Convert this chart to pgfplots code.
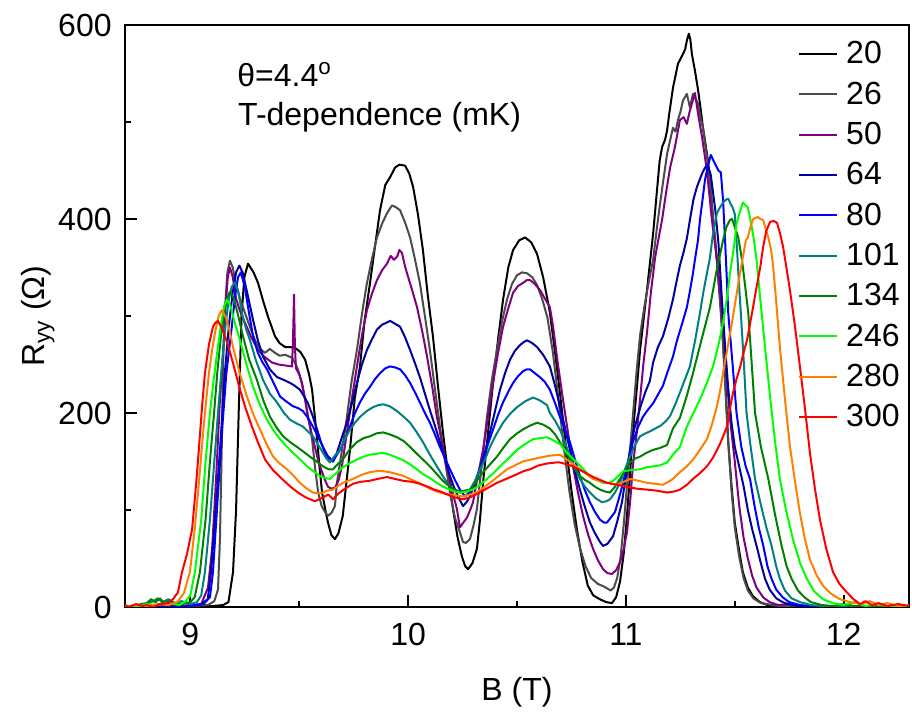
\documentclass[border=0pt]{standalone}
\usepackage{fontspec}
\setmainfont{Liberation Sans}
\usepackage{pgfplots}
\pgfplotsset{compat=1.18}
\definecolor{c20}{RGB}{0,0,0}
\definecolor{c26}{RGB}{75,75,75}
\definecolor{c50}{RGB}{128,0,128}
\definecolor{c64}{RGB}{0,0,160}
\definecolor{c80}{RGB}{0,0,255}
\definecolor{c101}{RGB}{0,128,128}
\definecolor{c134}{RGB}{0,128,0}
\definecolor{c246}{RGB}{0,255,0}
\definecolor{c280}{RGB}{255,128,0}
\definecolor{c300}{RGB}{255,0,0}
\newcommand{\fs}{\fontsize{16}{19}\selectfont}

\begin{document}
\begin{tikzpicture}
\begin{axis}[name=ax, width=392pt, height=291pt, scale only axis,
  xmin=8.7, xmax=12.3, ymin=0, ymax=600,
  xtick={9,10,11,12}, minor xtick={9.5,10.5,11.5},
  ytick={0,200,400,600}, minor ytick={100,300,500},
  tick align=inside, xtick pos=bottom, ytick pos=left,
  major tick length=6pt, minor tick length=3pt,
  axis line style={line width=1pt},
  every tick/.style={line width=1pt, black},
  /pgf/number format/assume math mode=true,
  tick label style={font=\fs},
  xticklabel style={inner sep=0pt, yshift=-8pt},
  yticklabel style={inner sep=0pt, xshift=-6.5pt},
  xlabel={B (T)},
  label style={font=\fs},
  xlabel style={at={(axis description cs:0.5,0)}, anchor=center, yshift=-42.5pt},
  legend style={draw=none, fill=none, font=\fs, at={(1,1)}, anchor=north east,
    xshift=-1.5pt, yshift=-6pt, nodes={inner sep=0pt}, row sep=7.5pt, column sep=4pt},
  legend cell align=left,
  legend image code/.code={\draw[#1] (0pt,0pt) -- (19pt,0pt);},
  every axis plot/.append style={line width=1pt, line join=round}]

\addplot[c20] coordinates {(8.70,0)(8.80,1)(8.90,0)(9.00,1)(9.10,1)(9.15,2)(9.175,5)(9.196,36)(9.21,100)(9.222,200)(9.235,300)(9.248,340)(9.265,354)(9.29,345)(9.311,334)(9.335,315)(9.357,299)(9.389,279)(9.41,272)(9.435,268)(9.46,268)(9.481,267)(9.505,263)(9.527,255)(9.545,240)(9.559,224)(9.57,200)(9.582,173)(9.595,140)(9.605,118)(9.62,100)(9.632,87)(9.648,74)(9.664,70)(9.68,76)(9.7,94)(9.715,125)(9.733,162)(9.755,215)(9.779,248)(9.8,295)(9.825,334)(9.85,375)(9.871,409)(9.895,435)(9.917,443)(9.94,453)(9.96,456)(9.986,455)(10.005,447)(10.023,433)(10.045,405)(10.068,368)(10.09,322)(10.114,279)(10.137,228)(10.16,180)(10.183,138)(10.206,101)(10.227,72)(10.247,52)(10.262,42)(10.275,39)(10.295,45)(10.316,60)(10.33,90)(10.344,128)(10.367,180)(10.39,231)(10.413,276)(10.436,317)(10.46,350)(10.482,368)(10.51,378)(10.537,381)(10.565,376)(10.592,364)(10.62,340)(10.65,305)(10.675,262)(10.7,215)(10.725,165)(10.75,120)(10.775,80)(10.8,47)(10.825,22)(10.85,12)(10.88,8)(10.91,5)(10.936,4)(10.955,10)(10.973,26)(10.99,55)(11.005,94)(11.02,140)(11.032,180)(11.05,225)(11.065,265)(11.097,327)(11.125,385)(11.143,430)(11.155,460)(11.166,474)(11.18,482)(11.189,491)(11.2,510)(11.216,535)(11.239,560)(11.262,570)(11.272,575)(11.28,584)(11.289,591)(11.296,585)(11.303,570)(11.317,553)(11.33,535)(11.34,519)(11.354,494)(11.365,478)(11.377,460)(11.39,430)(11.4,399)(11.418,358)(11.432,320)(11.446,275)(11.458,225)(11.469,173)(11.485,125)(11.5,87)(11.52,58)(11.537,36)(11.56,20)(11.584,11)(11.616,5)(11.65,2)(11.7,1)(11.8,0)(11.9,1)(12.0,0)(12.1,1)(12.2,0)(12.3,1)};
\addlegendentry{20}

\addplot[c26] coordinates {(8.70,1)(8.8,0)(8.9,2)(9.0,1)(9.08,2)(9.11,6)(9.127,18)(9.136,70)(9.145,173)(9.15,250)(9.16,310)(9.17,345)(9.182,357)(9.195,350)(9.205,337)(9.228,318)(9.251,303)(9.275,288)(9.297,275)(9.32,266)(9.343,262)(9.365,266)(9.389,262)(9.41,259)(9.435,260)(9.467,257)(9.48,252)(9.494,245)(9.51,232)(9.527,214)(9.543,193)(9.559,173)(9.572,145)(9.587,118)(9.603,104)(9.618,98)(9.632,94)(9.648,97)(9.664,104)(9.673,128)(9.695,160)(9.719,196)(9.74,232)(9.765,265)(9.79,305)(9.811,334)(9.835,360)(9.857,381)(9.88,395)(9.903,406)(9.926,414)(9.945,412)(9.963,409)(9.985,397)(10.009,381)(10.03,360)(10.054,334)(10.077,300)(10.1,265)(10.123,225)(10.146,186)(10.17,150)(10.192,118)(10.215,92)(10.238,77)(10.252,67)(10.265,66)(10.284,70)(10.3,84)(10.316,101)(10.34,150)(10.362,196)(10.385,235)(10.408,265)(10.43,293)(10.454,317)(10.477,333)(10.5,342)(10.523,345)(10.546,344)(10.57,340)(10.592,332)(10.615,318)(10.64,298)(10.665,262)(10.69,215)(10.715,165)(10.74,120)(10.765,85)(10.79,60)(10.815,42)(10.84,30)(10.87,24)(10.9,21)(10.93,17)(10.945,20)(10.96,30)(10.975,50)(10.99,85)(11.005,125)(11.02,165)(11.035,205)(11.05,245)(11.065,280)(11.085,310)(11.105,335)(11.125,358)(11.142,390)(11.157,416)(11.175,445)(11.189,467)(11.2,478)(11.216,494)(11.228,490)(11.239,502)(11.25,510)(11.262,522)(11.272,526)(11.28,529)(11.294,515)(11.308,529)(11.32,524)(11.331,519)(11.342,505)(11.354,494)(11.37,468)(11.386,440)(11.397,410)(11.409,381)(11.42,350)(11.432,315)(11.446,270)(11.458,220)(11.47,170)(11.485,120)(11.5,82)(11.52,52)(11.54,30)(11.56,17)(11.585,9)(11.62,4)(11.7,1)(11.8,0)(11.9,1)(12.0,0)(12.1,1)(12.3,0)};
\addlegendentry{26}

\addplot[c50] coordinates {(8.7,0)(8.8,1)(8.9,0)(9.0,2)(9.05,3)(9.081,20)(9.1,60)(9.12,140)(9.135,210)(9.15,260)(9.16,305)(9.172,340)(9.182,350)(9.195,340)(9.21,318)(9.228,305)(9.251,293)(9.28,278)(9.311,265)(9.34,258)(9.375,252)(9.405,250)(9.435,249)(9.467,248)(9.472,280)(9.476,322)(9.48,270)(9.485,246)(9.5,240)(9.513,231)(9.527,214)(9.54,196)(9.556,180)(9.572,165)(9.588,150)(9.605,139)(9.62,130)(9.632,124)(9.648,122)(9.664,123)(9.68,130)(9.696,145)(9.719,180)(9.742,215)(9.765,248)(9.788,280)(9.811,306)(9.834,323)(9.857,337)(9.88,347)(9.903,354)(9.92,362)(9.935,358)(9.949,361)(9.96,368)(9.972,365)(9.985,352)(9.995,344)(10.018,327)(10.041,309)(10.065,284)(10.087,258)(10.11,228)(10.132,196)(10.155,170)(10.178,145)(10.2,122)(10.224,101)(10.238,82)(10.25,86)(10.27,92)(10.285,100)(10.298,108)(10.32,135)(10.344,162)(10.367,196)(10.39,231)(10.413,262)(10.436,289)(10.46,308)(10.482,324)(10.505,331)(10.527,334)(10.545,337)(10.56,337)(10.582,333)(10.605,327)(10.628,318)(10.651,309)(10.665,290)(10.688,250)(10.711,214)(10.734,180)(10.757,145)(10.78,118)(10.803,94)(10.826,75)(10.849,60)(10.872,48)(10.895,39)(10.915,35)(10.936,34)(10.955,38)(10.973,46)(10.99,60)(11.005,77)(11.02,110)(11.032,145)(11.05,180)(11.065,214)(11.08,250)(11.097,283)(11.115,325)(11.134,360)(11.15,380)(11.166,399)(11.185,428)(11.203,453)(11.225,474)(11.248,502)(11.265,505)(11.28,498)(11.292,510)(11.303,519)(11.317,530)(11.331,509)(11.35,484)(11.372,450)(11.395,399)(11.418,358)(11.435,320)(11.45,280)(11.465,230)(11.48,190)(11.5,150)(11.52,105)(11.54,72)(11.56,50)(11.58,32)(11.6,20)(11.63,10)(11.66,5)(11.7,2)(11.75,3)(11.8,1)(11.9,0)(12.0,1)(12.1,0)(12.3,1)};
\addlegendentry{50}

\addplot[c64] coordinates {(8.7,1)(8.8,0)(8.9,2)(9.0,1)(9.05,3)(9.08,8)(9.095,36)(9.12,110)(9.14,175)(9.158,240)(9.177,290)(9.195,325)(9.21,345)(9.225,352)(9.24,345)(9.26,325)(9.288,296)(9.31,275)(9.334,258)(9.365,245)(9.398,237)(9.43,234)(9.458,231)(9.48,228)(9.503,224)(9.52,218)(9.54,210)(9.56,198)(9.582,183)(9.6,170)(9.618,159)(9.636,153)(9.655,150)(9.673,159)(9.696,175)(9.719,190)(9.742,210)(9.765,231)(9.788,250)(9.811,265)(9.834,276)(9.857,286)(9.88,291)(9.9,293)(9.917,295)(9.94,292)(9.963,289)(9.986,278)(10.009,265)(10.032,251)(10.054,237)(10.077,220)(10.1,203)(10.123,187)(10.146,170)(10.17,152)(10.192,135)(10.21,124)(10.229,114)(10.252,104)(10.268,108)(10.284,114)(10.307,128)(10.33,142)(10.353,160)(10.376,180)(10.4,203)(10.422,224)(10.445,241)(10.468,255)(10.49,264)(10.514,270)(10.53,273)(10.546,275)(10.57,272)(10.592,268)(10.62,260)(10.651,248)(10.675,228)(10.697,207)(10.72,185)(10.743,162)(10.766,140)(10.789,121)(10.812,103)(10.835,87)(10.858,76)(10.881,67)(10.895,63)(10.915,65)(10.941,73)(10.96,88)(10.982,108)(11.0,135)(11.019,162)(11.04,185)(11.065,205)(11.09,222)(11.11,233)(11.125,252)(11.147,268)(11.17,279)(11.195,298)(11.216,317)(11.232,335)(11.248,352)(11.264,365)(11.28,380)(11.294,399)(11.31,420)(11.326,433)(11.35,447)(11.363,453)(11.377,455)(11.39,445)(11.41,410)(11.425,375)(11.44,320)(11.455,270)(11.47,225)(11.485,190)(11.5,165)(11.52,145)(11.54,125)(11.56,100)(11.58,80)(11.6,63)(11.62,45)(11.639,29)(11.66,18)(11.69,9)(11.72,5)(11.76,2)(11.8,1)(11.9,0)(12.0,1)(12.1,0)(12.3,1)};
\addlegendentry{64}

\addplot[c80] coordinates {(8.7,0)(8.8,2)(8.9,1)(9.0,1)(9.06,3)(9.09,10)(9.104,36)(9.125,110)(9.145,180)(9.165,240)(9.191,290)(9.205,320)(9.219,340)(9.232,345)(9.25,330)(9.268,305)(9.288,279)(9.31,262)(9.332,252)(9.352,245)(9.38,232)(9.412,217)(9.44,212)(9.471,207)(9.495,205)(9.517,202)(9.54,195)(9.563,186)(9.585,176)(9.609,165)(9.63,156)(9.655,150)(9.67,156)(9.687,162)(9.71,173)(9.733,186)(9.756,200)(9.779,211)(9.802,220)(9.825,227)(9.848,235)(9.871,241)(9.895,246)(9.917,248)(9.94,247)(9.963,245)(9.986,239)(10.009,231)(10.032,221)(10.054,211)(10.077,200)(10.1,190)(10.123,178)(10.146,165)(10.17,153)(10.192,142)(10.215,131)(10.238,121)(10.261,114)(10.28,118)(10.298,124)(10.32,137)(10.344,152)(10.367,168)(10.39,183)(10.413,198)(10.436,211)(10.46,222)(10.482,231)(10.505,238)(10.527,243)(10.545,245)(10.56,245)(10.582,241)(10.605,237)(10.628,232)(10.651,224)(10.675,210)(10.697,196)(10.72,183)(10.743,170)(10.766,152)(10.789,135)(10.812,120)(10.835,108)(10.858,98)(10.881,90)(10.9,87)(10.913,87)(10.93,92)(10.95,98)(10.968,112)(10.987,128)(11.01,150)(11.032,170)(11.055,185)(11.078,196)(11.1,203)(11.125,210)(11.15,220)(11.17,228)(11.189,241)(11.216,258)(11.235,275)(11.258,292)(11.28,309)(11.295,327)(11.308,344)(11.317,358)(11.331,378)(11.34,399)(11.352,420)(11.363,440)(11.377,455)(11.39,466)(11.409,457)(11.425,450)(11.436,448)(11.446,420)(11.455,380)(11.463,340)(11.47,303)(11.49,250)(11.508,200)(11.53,165)(11.55,145)(11.57,132)(11.59,105)(11.61,82)(11.631,63)(11.65,42)(11.669,29)(11.69,18)(11.72,10)(11.75,5)(11.8,2)(11.85,1)(11.9,0)(12.0,1)(12.1,0)(12.3,1)};
\addlegendentry{80}

\addplot[c101] coordinates {(8.7,1)(8.75,0)(8.8,3)(8.83,6)(8.85,9)(8.87,5)(8.9,8)(8.93,4)(8.96,6)(9.0,3)(9.03,5)(9.05,12)(9.067,36)(9.09,90)(9.11,150)(9.127,200)(9.145,250)(9.159,285)(9.175,315)(9.19,330)(9.205,335)(9.22,325)(9.24,300)(9.258,285)(9.274,275)(9.3,255)(9.334,234)(9.365,220)(9.398,211)(9.43,200)(9.458,193)(9.49,189)(9.517,186)(9.54,181)(9.563,176)(9.585,168)(9.609,159)(9.625,153)(9.641,149)(9.66,155)(9.687,162)(9.71,173)(9.733,183)(9.756,190)(9.779,196)(9.81,202)(9.839,206)(9.862,208)(9.885,209)(9.915,207)(9.949,202)(9.98,196)(10.009,190)(10.04,180)(10.068,170)(10.1,157)(10.132,145)(10.162,134)(10.192,124)(10.215,120)(10.238,118)(10.26,119)(10.284,121)(10.307,130)(10.33,142)(10.353,152)(10.376,165)(10.405,178)(10.436,190)(10.468,199)(10.5,206)(10.537,212)(10.574,216)(10.605,213)(10.638,208)(10.651,200)(10.675,192)(10.697,183)(10.72,170)(10.743,155)(10.766,143)(10.789,132)(10.812,124)(10.835,118)(10.862,112)(10.89,108)(10.91,109)(10.927,111)(10.95,118)(10.973,128)(10.996,142)(11.019,155)(11.042,167)(11.065,176)(11.09,179)(11.11,181)(11.135,184)(11.16,187)(11.185,192)(11.203,197)(11.225,208)(11.248,221)(11.27,234)(11.294,248)(11.318,275)(11.34,303)(11.356,325)(11.372,344)(11.386,360)(11.4,385)(11.418,406)(11.432,412)(11.446,417)(11.46,420)(11.47,421)(11.48,416)(11.49,412)(11.5,405)(11.51,370)(11.52,330)(11.53,295)(11.542,250)(11.554,200)(11.57,170)(11.593,132)(11.62,105)(11.645,82)(11.669,63)(11.69,42)(11.707,29)(11.73,17)(11.76,9)(11.8,5)(11.85,2)(11.9,1)(12.0,0)(12.1,1)(12.3,0)};
\addlegendentry{101}

\addplot[c134] coordinates {(8.7,0)(8.75,2)(8.8,4)(8.82,8)(8.84,5)(8.86,9)(8.88,4)(8.9,6)(8.95,3)(9.0,5)(9.02,10)(9.044,36)(9.07,90)(9.09,150)(9.109,200)(9.125,245)(9.141,280)(9.16,310)(9.175,322)(9.182,325)(9.2,318)(9.22,300)(9.242,279)(9.27,255)(9.306,234)(9.335,213)(9.366,196)(9.396,185)(9.426,176)(9.458,170)(9.49,165)(9.52,160)(9.549,155)(9.58,150)(9.609,145)(9.635,142)(9.655,142)(9.68,148)(9.7,152)(9.73,162)(9.765,170)(9.795,174)(9.825,176)(9.855,179)(9.885,180)(9.915,178)(9.949,175)(9.98,171)(10.009,165)(10.04,158)(10.068,152)(10.1,145)(10.132,137)(10.16,130)(10.192,124)(10.215,121)(10.238,119)(10.26,120)(10.284,121)(10.315,130)(10.344,139)(10.376,147)(10.408,155)(10.44,165)(10.468,173)(10.5,179)(10.527,183)(10.56,187)(10.592,190)(10.62,188)(10.651,184)(10.675,178)(10.697,170)(10.72,161)(10.743,152)(10.766,143)(10.789,135)(10.812,131)(10.835,128)(10.858,124)(10.881,121)(10.905,119)(10.927,118)(10.95,124)(10.973,132)(10.996,141)(11.019,149)(11.042,153)(11.065,155)(11.095,159)(11.125,162)(11.157,164)(11.189,167)(11.216,184)(11.248,195)(11.28,218)(11.308,241)(11.35,278)(11.386,309)(11.415,345)(11.446,378)(11.462,392)(11.478,399)(11.487,400)(11.5,392)(11.516,381)(11.533,358)(11.548,330)(11.562,303)(11.578,250)(11.593,200)(11.62,165)(11.654,132)(11.685,95)(11.715,63)(11.738,42)(11.761,29)(11.79,17)(11.82,10)(11.85,5)(11.9,2)(11.95,1)(12.0,3)(12.05,1)(12.1,0)(12.2,1)(12.3,0)};
\addlegendentry{134}

\addplot[c246] coordinates {(8.7,1)(8.75,0)(8.8,3)(8.85,2)(8.9,4)(8.95,2)(8.98,6)(9.0,12)(9.021,36)(9.05,90)(9.07,150)(9.09,200)(9.105,230)(9.122,260)(9.14,290)(9.155,310)(9.168,317)(9.185,310)(9.205,292)(9.228,275)(9.258,250)(9.288,227)(9.32,208)(9.352,193)(9.382,182)(9.412,173)(9.44,166)(9.471,159)(9.505,152)(9.536,145)(9.565,140)(9.595,135)(9.62,133)(9.641,132)(9.67,138)(9.7,144)(9.73,148)(9.765,152)(9.795,155)(9.825,157)(9.855,158)(9.885,159)(9.915,157)(9.949,154)(9.98,151)(10.009,147)(10.04,142)(10.068,137)(10.1,133)(10.132,128)(10.16,124)(10.192,121)(10.215,119)(10.238,118)(10.268,119)(10.298,121)(10.33,126)(10.362,132)(10.392,138)(10.422,145)(10.46,153)(10.5,162)(10.537,168)(10.574,173)(10.605,174)(10.638,175)(10.665,172)(10.697,168)(10.729,159)(10.752,154)(10.775,149)(10.805,142)(10.835,135)(10.865,131)(10.895,128)(10.92,128)(10.941,130)(10.965,135)(10.987,140)(11.02,141)(11.065,142)(11.095,144)(11.125,145)(11.157,146)(11.189,149)(11.216,157)(11.248,165)(11.28,186)(11.31,200)(11.34,214)(11.37,230)(11.4,248)(11.425,270)(11.446,293)(11.465,320)(11.478,344)(11.49,362)(11.5,378)(11.508,395)(11.52,405)(11.537,417)(11.55,414)(11.56,412)(11.578,392)(11.59,375)(11.6,358)(11.616,320)(11.64,265)(11.662,217)(11.685,170)(11.707,132)(11.735,100)(11.767,70)(11.8,45)(11.831,29)(11.865,16)(11.905,8)(11.95,4)(12.0,2)(12.05,5)(12.1,1)(12.15,3)(12.2,1)(12.3,0)};
\addlegendentry{246}

\addplot[c280] coordinates {(8.7,0)(8.75,2)(8.8,1)(8.85,3)(8.9,2)(8.94,5)(8.97,14)(8.998,36)(9.02,80)(9.04,130)(9.055,170)(9.067,200)(9.085,240)(9.1,265)(9.115,285)(9.13,300)(9.145,306)(9.165,298)(9.18,285)(9.196,268)(9.228,240)(9.26,217)(9.29,198)(9.32,183)(9.35,168)(9.38,155)(9.41,148)(9.444,142)(9.475,135)(9.503,128)(9.535,122)(9.563,118)(9.59,117)(9.609,118)(9.63,120)(9.655,121)(9.68,125)(9.7,128)(9.735,131)(9.765,134)(9.795,137)(9.825,139)(9.855,140)(9.885,140)(9.915,139)(9.949,137)(9.98,135)(10.009,132)(10.04,129)(10.068,126)(10.1,122)(10.132,119)(10.162,117)(10.192,116)(10.222,115)(10.252,114)(10.285,116)(10.316,118)(10.346,123)(10.376,128)(10.415,135)(10.454,142)(10.49,146)(10.527,150)(10.565,152)(10.605,154)(10.65,156)(10.697,157)(10.729,152)(10.76,147)(10.789,142)(10.82,137)(10.849,132)(10.88,130)(10.913,128)(10.936,127)(10.959,126)(10.99,129)(11.019,132)(11.06,130)(11.097,128)(11.135,127)(11.17,126)(11.21,131)(11.248,139)(11.28,145)(11.308,152)(11.34,162)(11.372,173)(11.395,188)(11.418,207)(11.432,222)(11.446,241)(11.465,265)(11.487,293)(11.505,318)(11.524,344)(11.538,362)(11.551,378)(11.56,381)(11.572,392)(11.584,400)(11.595,401)(11.606,402)(11.618,400)(11.63,399)(11.642,390)(11.654,381)(11.665,370)(11.675,354)(11.69,315)(11.707,268)(11.73,215)(11.753,166)(11.776,130)(11.799,97)(11.822,70)(11.845,49)(11.875,33)(11.905,22)(11.94,14)(11.983,8)(12.03,5)(12.08,3)(12.12,6)(12.16,2)(12.2,4)(12.25,1)(12.3,2)};
\addlegendentry{280}

\addplot[c300] coordinates {(8.7,2)(8.72,0)(8.75,3)(8.78,1)(8.8,2)(8.83,0)(8.86,3)(8.9,4)(8.92,8)(8.943,15)(8.962,36)(8.985,55)(9.008,80)(9.02,110)(9.031,139)(9.045,180)(9.055,210)(9.067,241)(9.085,270)(9.104,289)(9.115,293)(9.127,295)(9.15,285)(9.173,270)(9.2,248)(9.228,224)(9.255,204)(9.283,186)(9.31,170)(9.343,152)(9.38,141)(9.421,132)(9.46,124)(9.494,118)(9.53,113)(9.572,109)(9.61,113)(9.633,116)(9.655,111)(9.68,117)(9.71,122)(9.747,127)(9.78,129)(9.82,130)(9.86,132)(9.903,134)(9.94,132)(9.98,130)(10.02,129)(10.054,127)(10.09,124)(10.12,121)(10.15,119)(10.18,116)(10.215,113)(10.252,111)(10.285,113)(10.32,117)(10.36,122)(10.408,128)(10.45,132)(10.5,137)(10.53,140)(10.56,142)(10.6,146)(10.64,148)(10.68,149)(10.697,149)(10.73,147)(10.757,145)(10.8,140)(10.85,134)(10.913,128)(10.96,126)(11.005,124)(11.05,122)(11.097,121)(11.14,120)(11.189,118)(11.22,119)(11.248,121)(11.28,126)(11.308,132)(11.34,138)(11.372,145)(11.4,154)(11.432,168)(11.45,178)(11.464,186)(11.478,205)(11.492,221)(11.508,235)(11.524,247)(11.54,262)(11.556,275)(11.57,292)(11.584,309)(11.596,325)(11.606,337)(11.618,352)(11.63,371)(11.645,388)(11.662,397)(11.678,398)(11.694,396)(11.708,385)(11.722,371)(11.737,350)(11.753,327)(11.776,290)(11.799,248)(11.822,205)(11.845,159)(11.868,122)(11.891,90)(11.92,60)(11.951,36)(11.98,24)(12.015,15)(12.045,8)(12.075,3)(12.1,6)(12.13,2)(12.16,4)(12.2,1)(12.25,3)(12.3,1)};
\addlegendentry{300}

\node[font=\fs, anchor=base west, inner sep=0pt] at (axis cs:9.214,536.5) {θ=4.4\textsuperscript{o}};
\node[font=\fs, anchor=base west, inner sep=0pt] at (axis cs:9.218,496.4) {T-dependence (mK)};
\end{axis}
\node[font=\fs, rotate=90, anchor=center] at ([xshift=-43.5pt]ax.west) {R\textsubscript{yy} (Ω)};
\pgfresetboundingbox
\path (ax.south west) ++(-62.5pt,-53pt) rectangle ([xshift=1.5pt,yshift=12.5pt]ax.north east);
\end{tikzpicture}
\end{document}
